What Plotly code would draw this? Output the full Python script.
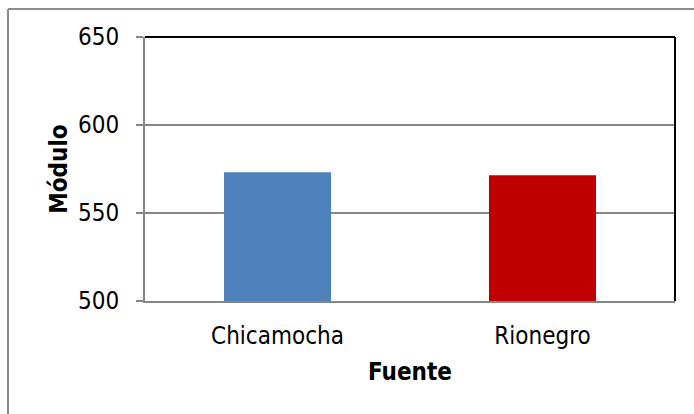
import plotly.graph_objects as go

# Mean module per water source
fuentes = ["Chicamocha", "Rionegro"]
modulo = [573.1, 571.4]
colores = ["#4F81BD", "#C00000"]

y_ticks = [500, 550, 600, 650]

FONT = "Liberation Sans Narrow, Arial Narrow, DejaVu Sans Condensed, sans-serif"
GRAY = "#868686"

fig = go.Figure(
    go.Bar(
        x=fuentes,
        y=modulo,
        marker=dict(color=colores, line=dict(width=0)),
        width=0.404,
        showlegend=False,
    )
)

fig.update_layout(
    width=694,
    height=414,
    margin=dict(l=145, r=19, t=37, b=113),
    paper_bgcolor="white",
    plot_bgcolor="white",
    font=dict(family=FONT, size=24, color="#000000"),
    xaxis=dict(
        showline=True,
        linecolor=GRAY,
        linewidth=2,
        ticks="",
        showgrid=False,
        ticklabelstandoff=12,
        title=dict(text="Fuente", font=dict(family=FONT, size=24, weight="bold"), standoff=14),
    ),
    yaxis=dict(
        range=[500, 650],
        tickvals=y_ticks,
        showline=True,
        linecolor=GRAY,
        linewidth=2,
        ticks="outside",
        ticklen=7,
        tickwidth=2,
        tickcolor=GRAY,
        showgrid=True,
        gridcolor=GRAY,
        gridwidth=2,
        zeroline=False,
        ticklabelstandoff=12,
        title=dict(text="Módulo", font=dict(family=FONT, size=24, weight="bold"), standoff=4),
    ),
    shapes=[
        # black top and right frame of the plot area
        dict(type="line", xref="paper", yref="paper", x0=0, x1=1, y0=1, y1=1,
             line=dict(color="#000000", width=2)),
        dict(type="line", xref="paper", yref="paper", x0=1, x1=1, y0=0, y1=1,
             line=dict(color="#000000", width=2)),
        # outer chart border (left and top edges)
        dict(type="line", xref="paper", yref="paper", x0=-0.2585, x1=1.2, y0=1.106, y1=1.106,
             line=dict(color="#8C8C8C", width=2)),
        dict(type="line", xref="paper", yref="paper", x0=-0.2585, x1=-0.2585, y0=1.106, y1=-0.6,
             line=dict(color="#8C8C8C", width=2)),
    ],
)

fig.write_html("out.html")
